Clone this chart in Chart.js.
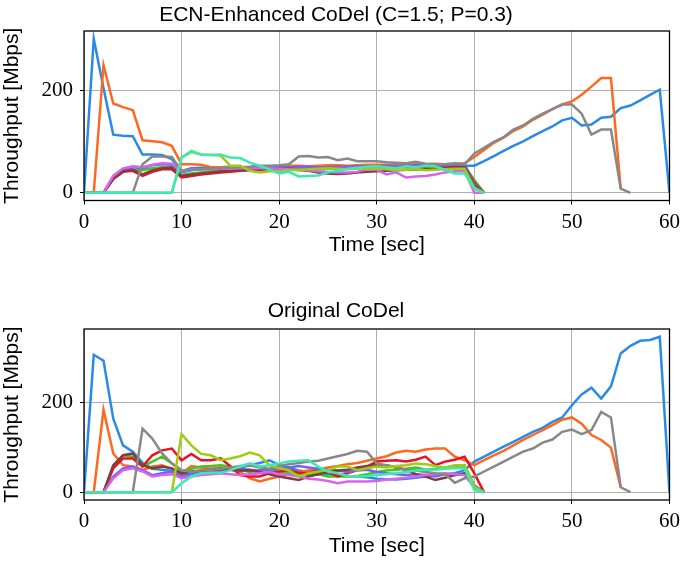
<!DOCTYPE html>
<html>
<head>
<meta charset="utf-8">
<script src="https://cdn.jsdelivr.net/npm/chart.js@4/dist/chart.umd.min.js"></script>
<style>
    html, body { margin: 0; padding: 0; background: #fff; }
    #wrap { position: relative; width: 685px; height: 563px; }
    #wrap canvas { position: absolute; left: 0; }
    #top { top: 0; }
    #bottom { top: 282px; }
</style>
</head>
<body>
<div id="wrap">
    <canvas id="top" width="685" height="282"></canvas>
    <canvas id="bottom" width="685" height="281"></canvas>
</div>
<script>
// Flow order follows the plotting order of the original figure
var flowColors = ['#2a8ae6', '#ff6820', '#40c81c', '#ec1025', '#7462f0',
                  '#7f3f3f', '#d664f0', '#888888', '#9fcc12', '#3ee8b5'];

var xTicks = [0, 10, 20, 30, 40, 50, 60];
var yTicks = [0, 200];

// ECN-Enhanced CoDel, one value per second starting at t=0
var ecnBlue = [0, 302, 205, 114, 112, 111, 75, 75, 74, 66,
    43, 48, 49, 50, 50, 51, 50, 50, 52, 52,
    51, 52, 50, 48, 50, 52, 50, 49, 52, 51,
    53, 52, 52, 54, 53, 52, 54, 53, 54, 53,
    53, 62, 72, 82, 92, 101, 111, 121, 130, 142,
    147, 132, 134, 147, 149, 166, 171, 181, 192, 202, 0];
var ecnOrange = [0, 0, 250, 175, 168, 162, 103, 101, 99, 92,
    56, 56, 55, 50, 50, 50, 50, 50, 51, 52,
    52, 53, 53, 52, 53, 54, 54, 53, 54, 55,
    55, 55, 56, 55, 56, 56, 57, 56, 57, 58,
    70, 84, 98, 108, 121, 130, 143, 153, 164, 173,
    179, 192, 208, 225, 225, 8];
var ecnGreen = [0, 0, 0, 28, 42, 45, 44, 48, 50, 50,
    35, 38, 40, 42, 44, 45, 46, 47, 46, 47,
    45, 46, 44, 45, 46, 47, 48, 48, 49, 50,
    50, 51, 50, 51, 52, 51, 52, 52, 53, 52,
    25, 0];
var ecnRed = [0, 0, 0, 27, 41, 43, 33, 41, 46, 46,
    30, 33, 36, 38, 40, 41, 43, 44, 45, 46,
    48, 49, 48, 49, 50, 50, 48, 49, 50, 51,
    50, 51, 52, 52, 51, 52, 53, 52, 53, 54,
    20, 0];
var ecnPurple = [0, 0, 0, 32, 46, 50, 48, 54, 56, 55,
    40, 44, 46, 47, 47, 48, 48, 49, 50, 50,
    50, 50, 51, 51, 50, 50, 51, 51, 52, 52,
    52, 53, 52, 53, 54, 53, 54, 54, 55, 55,
    18, 0];
var ecnBrown = [0, 0, 0, 28, 42, 45, 36, 44, 48, 49,
    33, 36, 38, 40, 42, 43, 44, 45, 46, 47,
    47, 47, 45, 43, 40, 38, 37, 38, 40, 41,
    42, 43, 44, 45, 45, 46, 47, 48, 49, 50,
    15, 0];
var ecnPink = [0, 0, 0, 33, 48, 52, 50, 55, 58, 57,
    42, 45, 46, 46, 47, 47, 48, 48, 48, 48,
    47, 46, 45, 44, 42, 41, 40, 40, 41, 46,
    45, 36, 40, 30, 32, 33, 36, 40, 42, 43,
    0, 0];
var ecnGray = [0, 0, 0, 0, 0, 0, 56, 71, 71, 70,
    43, 45, 46, 47, 48, 49, 50, 51, 53, 53,
    54, 56, 71, 72, 69, 70, 64, 67, 62, 62,
    62, 60, 59, 58, 61, 57, 56, 56, 58, 56,
    77, 88, 100, 109, 124, 132, 145, 155, 164, 173,
    173, 155, 114, 124, 124, 8, 0];
var ecnLime = [0, 0, 0, 0, 0, 0, 0, 0, 0, 0,
    69, 80, 75, 74, 73, 53, 53, 43, 40, 42,
    42, 44, 45, 46, 47, 48, 47, 46, 47, 48,
    47, 46, 44, 45, 46, 44, 45, 46, 47, 47,
    10, 0];
var ecnCyan = [0, 0, 0, 0, 0, 0, 0, 0, 0, 0,
    69, 82, 75, 74, 75, 69, 68, 59, 53, 46,
    38, 41, 32, 33, 34, 40, 43, 47, 49, 51,
    52, 50, 48, 52, 50, 53, 52, 45, 38, 38,
    8, 0];

// Original CoDel
var origBlue = [0, 305, 292, 163, 104, 90, 65, 52, 50, 47,
    40, 44, 45, 47, 48, 52, 55, 60, 65, 71,
    60, 55, 48, 45, 43, 40, 38, 36, 35, 33,
    30, 29, 28, 30, 32, 35, 38, 40, 42, 49,
    68, 79, 90, 101, 112, 123, 134, 143, 156, 166,
    193, 217, 232, 208, 235, 308, 325, 336, 338, 345, 0];
var origOrange = [0, 0, 183, 86, 60, 57, 49, 57, 60, 52,
    42, 58, 55, 52, 55, 50, 45, 31, 24, 30,
    35, 40, 45, 48, 50, 55, 58, 62, 65, 70,
    75, 80, 88, 92, 90, 95, 97, 97, 79, 71,
    60, 71, 82, 92, 104, 116, 127, 138, 149, 161,
    166, 152, 127, 116, 99, 11];
var origGreen = [0, 0, 0, 57, 82, 79, 57, 68, 79, 64,
    46, 52, 57, 58, 60, 57, 49, 45, 48, 50,
    45, 42, 40, 38, 40, 35, 35, 35, 36, 40,
    45, 48, 50, 52, 55, 50, 52, 55, 58, 60,
    15, 0];
var origRed = [0, 0, 0, 53, 75, 75, 57, 82, 93, 97,
    71, 85, 71, 71, 75, 58, 38, 35, 35, 42,
    46, 49, 43, 42, 49, 45, 35, 42, 49, 57,
    68, 70, 71, 68, 72, 79, 60, 68, 72, 79,
    42, 0];
var origPurple = [0, 0, 0, 35, 53, 57, 49, 38, 42, 46,
    35, 40, 42, 45, 48, 50, 52, 50, 48, 50,
    52, 55, 58, 55, 52, 50, 48, 45, 48, 50,
    45, 42, 40, 38, 40, 38, 35, 40, 38, 42,
    15, 0];
var origBrown = [0, 0, 0, 60, 82, 86, 60, 53, 57, 53,
    42, 46, 48, 50, 52, 50, 48, 49, 45, 40,
    35, 31, 27, 35, 40, 45, 48, 50, 55, 58,
    60, 60, 55, 50, 40, 35, 27, 32, 38, 42,
    10, 0];
var origPink = [0, 0, 0, 31, 49, 53, 46, 35, 38, 40,
    31, 35, 38, 40, 42, 40, 38, 40, 42, 45,
    40, 38, 35, 30, 28, 25, 20, 24, 24, 24,
    25, 28, 30, 32, 35, 38, 40, 42, 40, 38,
    10, 0];
var origGray = [0, 0, 0, 0, 0, 0, 141, 119, 86, 64,
    49, 45, 48, 50, 52, 55, 58, 60, 55, 52,
    58, 62, 65, 68, 70, 75, 80, 85, 92, 90,
    64, 60, 55, 50, 48, 45, 42, 40, 21, 31,
    35, 46, 57, 68, 79, 90, 97, 110, 117, 134,
    139, 129, 138, 178, 166, 11, 0];
var origLime = [0, 0, 0, 0, 0, 0, 0, 0, 0, 0,
    129, 104, 85, 82, 71, 75, 80, 88, 82, 60,
    53, 49, 35, 42, 46, 49, 57, 57, 49, 53,
    57, 55, 58, 60, 64, 62, 58, 55, 60, 60,
    12, 0];
var origCyan = [0, 0, 0, 0, 0, 0, 0, 0, 0, 0,
    20, 35, 42, 43, 43, 49, 57, 64, 57, 60,
    64, 68, 70, 71, 57, 46, 42, 36, 35, 36,
    38, 40, 42, 45, 48, 50, 50, 52, 53, 53,
    5, 0];

var ecnFlows = [ecnBlue, ecnOrange, ecnGreen, ecnRed, ecnPurple,
                ecnBrown, ecnPink, ecnGray, ecnLime, ecnCyan];
var origFlows = [origBlue, origOrange, origGreen, origRed, origPurple,
                 origBrown, origPink, origGray, origLime, origCyan];

var sansFont = "'Liberation Sans', Arial, sans-serif";
var serifFont = "'Liberation Serif', 'Times New Roman', serif";

// Spines are drawn over the lines, like matplotlib does
var frameBox = {
    id: 'frameBox',
    afterDatasetsDraw: function(chart) {
        var a = chart.chartArea;
        var ctx = chart.ctx;
        ctx.save();
        ctx.strokeStyle = '#000';
        ctx.lineWidth = 1.3;
        ctx.strokeRect(a.left, a.top, a.right - a.left, a.bottom - a.top);
        ctx.restore();
    }
};

function buildChart(canvasId, title, flows, opts) {
    var maxVal = 0;
    flows.forEach(function(f) {
        f.forEach(function(v) { if (v > maxVal) maxVal = v; });
    });
    var pad = maxVal * 0.05;

    var datasets = flows.map(function(f, i) {
        return {
            data: f.map(function(v, t) { return {x: t, y: v}; }),
            borderColor: flowColors[i],
            borderWidth: 2.5,
            pointRadius: 0,
            tension: 0,
            fill: false,
            order: flows.length - i
        };
    });

    return new Chart(document.getElementById(canvasId), {
        type: 'line',
        data: {datasets: datasets},
        plugins: [frameBox],
        options: {
            responsive: false,
            animation: false,
            layout: {padding: {top: 0, right: 13, bottom: 0, left: 0}},
            plugins: {
                legend: {display: false},
                tooltip: {enabled: false},
                title: {
                    display: true,
                    text: title,
                    color: '#000',
                    font: {family: sansFont, size: 21, weight: 'normal'},
                    padding: opts.titlePadding
                }
            },
            scales: {
                x: {
                    type: 'linear',
                    min: 0,
                    max: 60,
                    afterBuildTicks: function(s) {
                        s.ticks = xTicks.map(function(v) { return {value: v}; });
                    },
                    afterFit: function(s) { s.height = opts.xHeight; },
                    grid: {color: '#b0b0b0', lineWidth: 1, tickColor: '#000', tickLength: 4},
                    border: {display: false},
                    ticks: {color: '#000', padding: 5, autoSkip: false, maxRotation: 0,
                            font: {family: serifFont, size: 21}},
                    title: {display: true, text: 'Time [sec]', color: '#000',
                            font: {family: sansFont, size: 21},
                            padding: {top: 0, bottom: opts.xTitlePad}}
                },
                y: {
                    min: -pad,
                    max: maxVal + pad,
                    afterBuildTicks: function(s) {
                        s.ticks = yTicks.map(function(v) { return {value: v}; });
                    },
                    afterFit: function(s) { s.width = 84; },
                    grid: {color: '#b0b0b0', lineWidth: 1, tickColor: '#000', tickLength: 4},
                    border: {display: false},
                    ticks: {color: '#000', padding: 7, font: {family: serifFont, size: 21}},
                    title: {display: true, text: 'Throughput [Mbps]', color: '#000',
                            font: {family: sansFont, size: 21},
                            padding: {top: 0, bottom: 0}}
                }
            }
        }
    });
}

buildChart('top', 'ECN-Enhanced CoDel (C=1.5; P=0.3)', ecnFlows, {
    titlePadding: {top: 2.4, bottom: 3.4},
    xHeight: 81.5,
    xTitlePad: 24.4
});

buildChart('bottom', 'Original CoDel', origFlows, {
    titlePadding: {top: 16.4, bottom: 5.4},
    xHeight: 63,
    xTitlePad: 4.4
});
</script>
</body>
</html>
